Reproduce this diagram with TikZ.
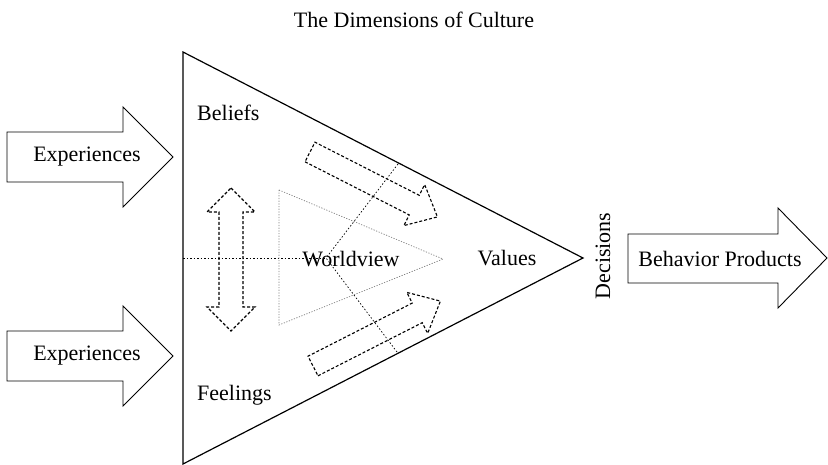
\documentclass[tikz,border=0pt]{standalone}
\usepackage{fontspec}
\setmainfont{Liberation Serif}
\tikzset{
  txt/.style={inner sep=0pt, font=\fontsize{22}{24}\selectfont},
  blockarrow/.style={draw, line width=0.9pt, line join=miter},
  dasharrow/.style={draw, line width=1.1pt, dash pattern=on 3pt off 2pt},
  median/.style={draw, line width=0.7pt, dash pattern=on 1.5pt off 2pt},
}

\begin{document}
\begin{tikzpicture}[x=1pt, y=-1pt]
\useasboundingbox (0,0) rectangle (828,465);

% title
\node[txt] (title) at (414,20) {The Dimensions of Culture};

% the big triangle
\coordinate (top) at (183,52);
\coordinate (bot) at (183,464);
\coordinate (tip) at (583,258);
\draw[line width=1.2pt, line join=miter] (top) -- (tip) -- (bot) -- cycle;

% medians
\coordinate (c) at (326,258);
\coordinate (m1) at (183,258);
\coordinate (m2) at (398,164);
\coordinate (m3) at (397,352);
\draw[median] (m1) -- (c);
\draw[median] (m2) -- (c);
\draw[median] (m3) -- (c);

% inner triangle
\draw[gray, line width=0.7pt, dash pattern=on 1.2pt off 1.5pt]
  (279,190) -- (443,259) -- (279,325) -- cycle;

% experiences arrows
\draw[blockarrow] (7,132) -- (123,132) -- (123,107) -- (173,157)
  -- (123,207) -- (123,182) -- (7,182) -- cycle;
\draw[blockarrow] (7,331) -- (123,331) -- (123,306) -- (173,356)
  -- (123,406) -- (123,381) -- (7,381) -- cycle;
\node[txt] (e1) at (87,157) {Experiences};
\node[txt] (e2) at (87,356) {Experiences};

% behavior products arrow
\draw[blockarrow] (628,234) -- (778,234) -- (778,208) -- (827,258)
  -- (778,308) -- (778,283) -- (628,283) -- cycle;
\node[txt] (bp) at (720,259) {Behavior Products};

% double arrow between beliefs and feelings
\draw[dasharrow] (231,188) -- (255,212) -- (243,212) -- (243,307)
  -- (255,307) -- (231,331) -- (207,307) -- (219,307) -- (219,212)
  -- (207,212) -- cycle;

% arrows towards values
\draw[dasharrow, shift={(310,152)}, rotate=-27]
  (0,11) -- (117,11) -- (117,23) -- (143,0) -- (117,-23) -- (117,-11)
  -- (0,-11) -- cycle;
\draw[dasharrow, shift={(313,366)}, rotate=27]
  (0,11) -- (117,11) -- (117,23) -- (143,0) -- (117,-23) -- (117,-11)
  -- (0,-11) -- cycle;

% labels
\node[txt, anchor=west] (beliefs) at (197,113) {Beliefs};
\node[txt, anchor=west] (feelings) at (197,395) {Feelings};
\node[txt] (wv) at (351,259) {Worldview};
\node[txt] (values) at (507,258) {Values};
\node[txt, rotate=90] (dec) at (603,256) {Decisions};

\end{tikzpicture}
\end{document}
